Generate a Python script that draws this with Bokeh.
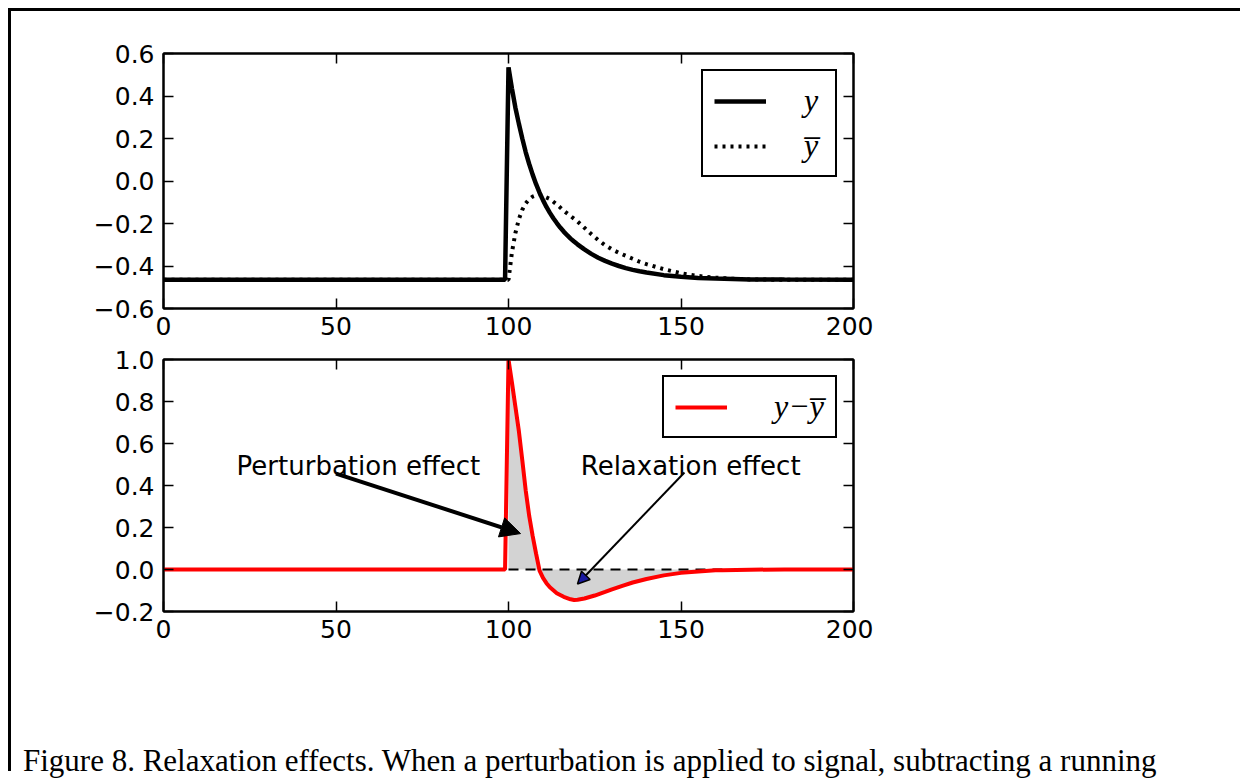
from bokeh.plotting import figure
from bokeh.models import (FixedTicker, CustomJSTickFormatter, LinearAxis, Legend, LegendItem,
                          Arrow, NormalHead, Label, Div, Range1d, CustomLabelingPolicy)
from bokeh.layouts import column
from bokeh.embed import file_html
from bokeh.resources import INLINE

# ---------------- data ----------------
t_y = [0, 99, 100, 101, 102, 103, 104, 105, 106, 107, 108, 109, 110, 111, 112, 113, 114, 115,
       116, 117, 118, 119, 120, 122, 124, 126, 128, 130, 132, 134, 136, 138, 140, 145, 150,
       155, 160, 170, 180, 200]
y_vals = [-0.465, -0.465, 0.535, 0.435, 0.345, 0.27, 0.20, 0.135, 0.08, 0.03, -0.015, -0.055,
          -0.09, -0.122, -0.15, -0.175, -0.198, -0.219, -0.238, -0.255, -0.271, -0.285, -0.298,
          -0.322, -0.343, -0.361, -0.376, -0.389, -0.40, -0.41, -0.418, -0.425, -0.431, -0.443,
          -0.451, -0.456, -0.459, -0.463, -0.464, -0.465]

t_ybar = [0, 100, 101, 102, 103, 104, 105, 106, 107, 108, 109, 110, 112, 114, 116, 118, 120,
          122, 124, 126, 128, 130, 132, 134, 136, 138, 140, 145, 150, 155, 160, 165, 170, 180, 200]
ybar_vals = [-0.465, -0.465, -0.335, -0.245, -0.18, -0.135, -0.105, -0.085, -0.073, -0.067,
             -0.065, -0.07, -0.085, -0.11, -0.14, -0.165, -0.19, -0.22, -0.25, -0.278, -0.302,
             -0.322, -0.338, -0.352, -0.366, -0.38, -0.391, -0.415, -0.434, -0.447, -0.455,
             -0.46, -0.463, -0.465, -0.465]

t_diff = [0, 99, 100, 101, 102, 103, 104, 105, 106, 107, 108, 109, 110, 111, 112, 114, 116, 118,
          119, 120, 122, 125, 128, 130, 133, 136, 140, 145, 150, 155, 160, 162, 170, 180, 200]
diff_vals = [0, 0, 1.0, 0.89, 0.775, 0.66, 0.52, 0.375, 0.255, 0.16, 0.075, -0.005, -0.04,
             -0.065, -0.085, -0.113, -0.13, -0.142, -0.145, -0.144, -0.138, -0.124, -0.107,
             -0.095, -0.078, -0.062, -0.045, -0.028, -0.016, -0.009, -0.004, -0.003, -0.001, 0, 0]

x_ticks = [0, 50, 100, 150, 200]
top_y_ticks = [-0.6, -0.4, -0.2, 0.0, 0.2, 0.4, 0.6]
bottom_y_ticks = [-0.2, 0.0, 0.2, 0.4, 0.6, 0.8, 1.0]

legend_top_labels = ["y", "y\u0305"]
legend_bottom_label = "y\u2212y\u0305"

zero_x = [100, 162]
zero_y = [0, 0]
fill_range = (100, 162)

perturb_text = "Perturbation effect"
perturb_pos = (56.5, 0.495)
perturb_arrow = (50.0, 0.457, 103.5, 0.171)
relax_text = "Relaxation effect"
relax_pos = (152.8, 0.495)
relax_arrow = (151.0, 0.462, 120.0, -0.069)

caption = ("Figure 8. Relaxation effects. When a perturbation is applied to signal, "
           "subtracting a running")

# ---------------- helpers ----------------
TICK_FONT = "DejaVu Sans"
TICK_SIZE = "25px"

yfmt_code = """
if (Math.abs(tick) < 1e-9) { return "0.0"; }
return tick.toFixed(1).replace("-", "\u2212");
"""

no_labels_code = """
const all = [];
for (const i of indices) { all.push(i); }
for (const i of all) { indices.unset(i); }
return indices;
"""


def style_axis(ax, labels=True):
    ax.major_tick_in = 10
    ax.major_tick_out = 0
    ax.minor_tick_line_color = None
    ax.major_tick_line_color = "black"
    ax.major_tick_line_width = 1.5
    ax.axis_line_color = "black"
    ax.axis_line_width = 2
    ax.major_label_text_font = TICK_FONT
    ax.major_label_text_color = "black"
    if labels:
        ax.major_label_text_font_size = TICK_SIZE
    else:
        ax.major_label_text_font_size = "0px"
        ax.major_label_policy = CustomLabelingPolicy(code=no_labels_code)
        ax.major_label_standoff = 0


def make_fig(y0, y1, yticks, fh, mtop, mbottom):
    p = figure(frame_width=690, frame_height=fh,
               x_range=Range1d(0, 200), y_range=Range1d(y0, y1),
               output_backend="svg", toolbar_location=None,
               min_border_left=152, min_border_right=20,
               min_border_top=mtop, min_border_bottom=mbottom,
               background_fill_color="white", border_fill_color="white")
    p.grid.visible = False
    p.outline_line_color = "black"
    p.outline_line_width = 2
    p.xaxis.ticker = FixedTicker(ticks=x_ticks)
    p.yaxis.ticker = FixedTicker(ticks=yticks)
    p.yaxis.formatter = CustomJSTickFormatter(code=yfmt_code)
    style_axis(p.xaxis[0])
    style_axis(p.yaxis[0])
    p.xaxis.major_label_standoff = 8
    p.yaxis.major_label_standoff = 9
    ra = LinearAxis(ticker=FixedTicker(ticks=yticks))
    ta = LinearAxis(ticker=FixedTicker(ticks=x_ticks))
    style_axis(ra, labels=False)
    style_axis(ta, labels=False)
    p.add_layout(ra, "right")
    p.add_layout(ta, "above")
    return p


def style_legend(leg, standoff, spacing):
    leg.location = "top_right"
    leg.margin = 16
    leg.border_line_color = "black"
    leg.border_line_width = 2
    leg.border_line_alpha = 1.0
    leg.background_fill_color = "white"
    leg.background_fill_alpha = 1.0
    leg.label_text_font = "Liberation Serif"
    leg.label_text_font_style = "italic"
    leg.label_text_font_size = "32px"
    leg.label_text_color = "black"
    leg.glyph_width = 52
    leg.glyph_height = 30
    leg.label_height = 30
    leg.padding = 11
    leg.spacing = spacing
    leg.label_standoff = standoff


# ---------------- top panel ----------------
p1 = make_fig(-0.6, 0.6, top_y_ticks, 255, 42, 36)
r_y = p1.line(t_y, y_vals, line_color="black", line_width=4.5)
r_yb = p1.line(t_ybar, ybar_vals, line_color="black", line_width=4, line_dash="3 5")
leg1 = Legend(items=[LegendItem(label=legend_top_labels[0], renderers=[r_y]),
                     LegendItem(label=legend_top_labels[1], renderers=[r_yb])])
style_legend(leg1, 38, 8)
p1.add_layout(leg1)

# ---------------- bottom panel ----------------
p2 = make_fig(-0.2, 1.0, bottom_y_ticks, 252, 15, 140)
fill_x = [t for t in t_diff if fill_range[0] <= t <= fill_range[1]]
fill_y = [v for t, v in zip(t_diff, diff_vals) if fill_range[0] <= t <= fill_range[1]]
p2.varea(x=fill_x, y1=[0] * len(fill_x), y2=fill_y, fill_color="#d3d3d3")
p2.line(zero_x, zero_y, line_color="black", line_width=2, line_dash="10 7")
r_d = p2.line(t_diff, diff_vals, line_color="#ff0000", line_width=4)
leg2 = Legend(items=[LegendItem(label=legend_bottom_label, renderers=[r_d])])
style_legend(leg2, 47, 8)
p2.add_layout(leg2)

p2.add_layout(Arrow(x_start=perturb_arrow[0], y_start=perturb_arrow[1],
                    x_end=perturb_arrow[2], y_end=perturb_arrow[3],
                    line_color="black", line_width=4,
                    end=NormalHead(size=20, fill_color="black", line_color="black")))
p2.add_layout(Arrow(x_start=relax_arrow[0], y_start=relax_arrow[1],
                    x_end=relax_arrow[2], y_end=relax_arrow[3],
                    line_color="black", line_width=2,
                    end=NormalHead(size=12, fill_color="#1a1aa0", line_color="black",
                                   line_width=1.5)))
for txt, pos in ((perturb_text, perturb_pos), (relax_text, relax_pos)):
    p2.add_layout(Label(x=pos[0], y=pos[1], text=txt, text_font="DejaVu Sans",
                        text_font_size="26px", text_align="center",
                        text_baseline="alphabetic", text_color="black"))

# ---------------- caption ----------------
cap = Div(text=('<div style="margin-left:12px; font-family:\'Liberation Serif\'; '
                'font-size:31px; color:black; white-space:nowrap; line-height:20px;">'
                + caption + '</div>'),
          width=1229, height=20, margin=0, styles={"overflow": "visible"})

layout = column(p1, p2, cap, spacing=0,
                styles={"border-top": "3px solid black", "border-left": "3px solid black",
                        "margin-top": "8px", "margin-left": "8px"})

open("out.html", "w").write(file_html(layout, INLINE))
